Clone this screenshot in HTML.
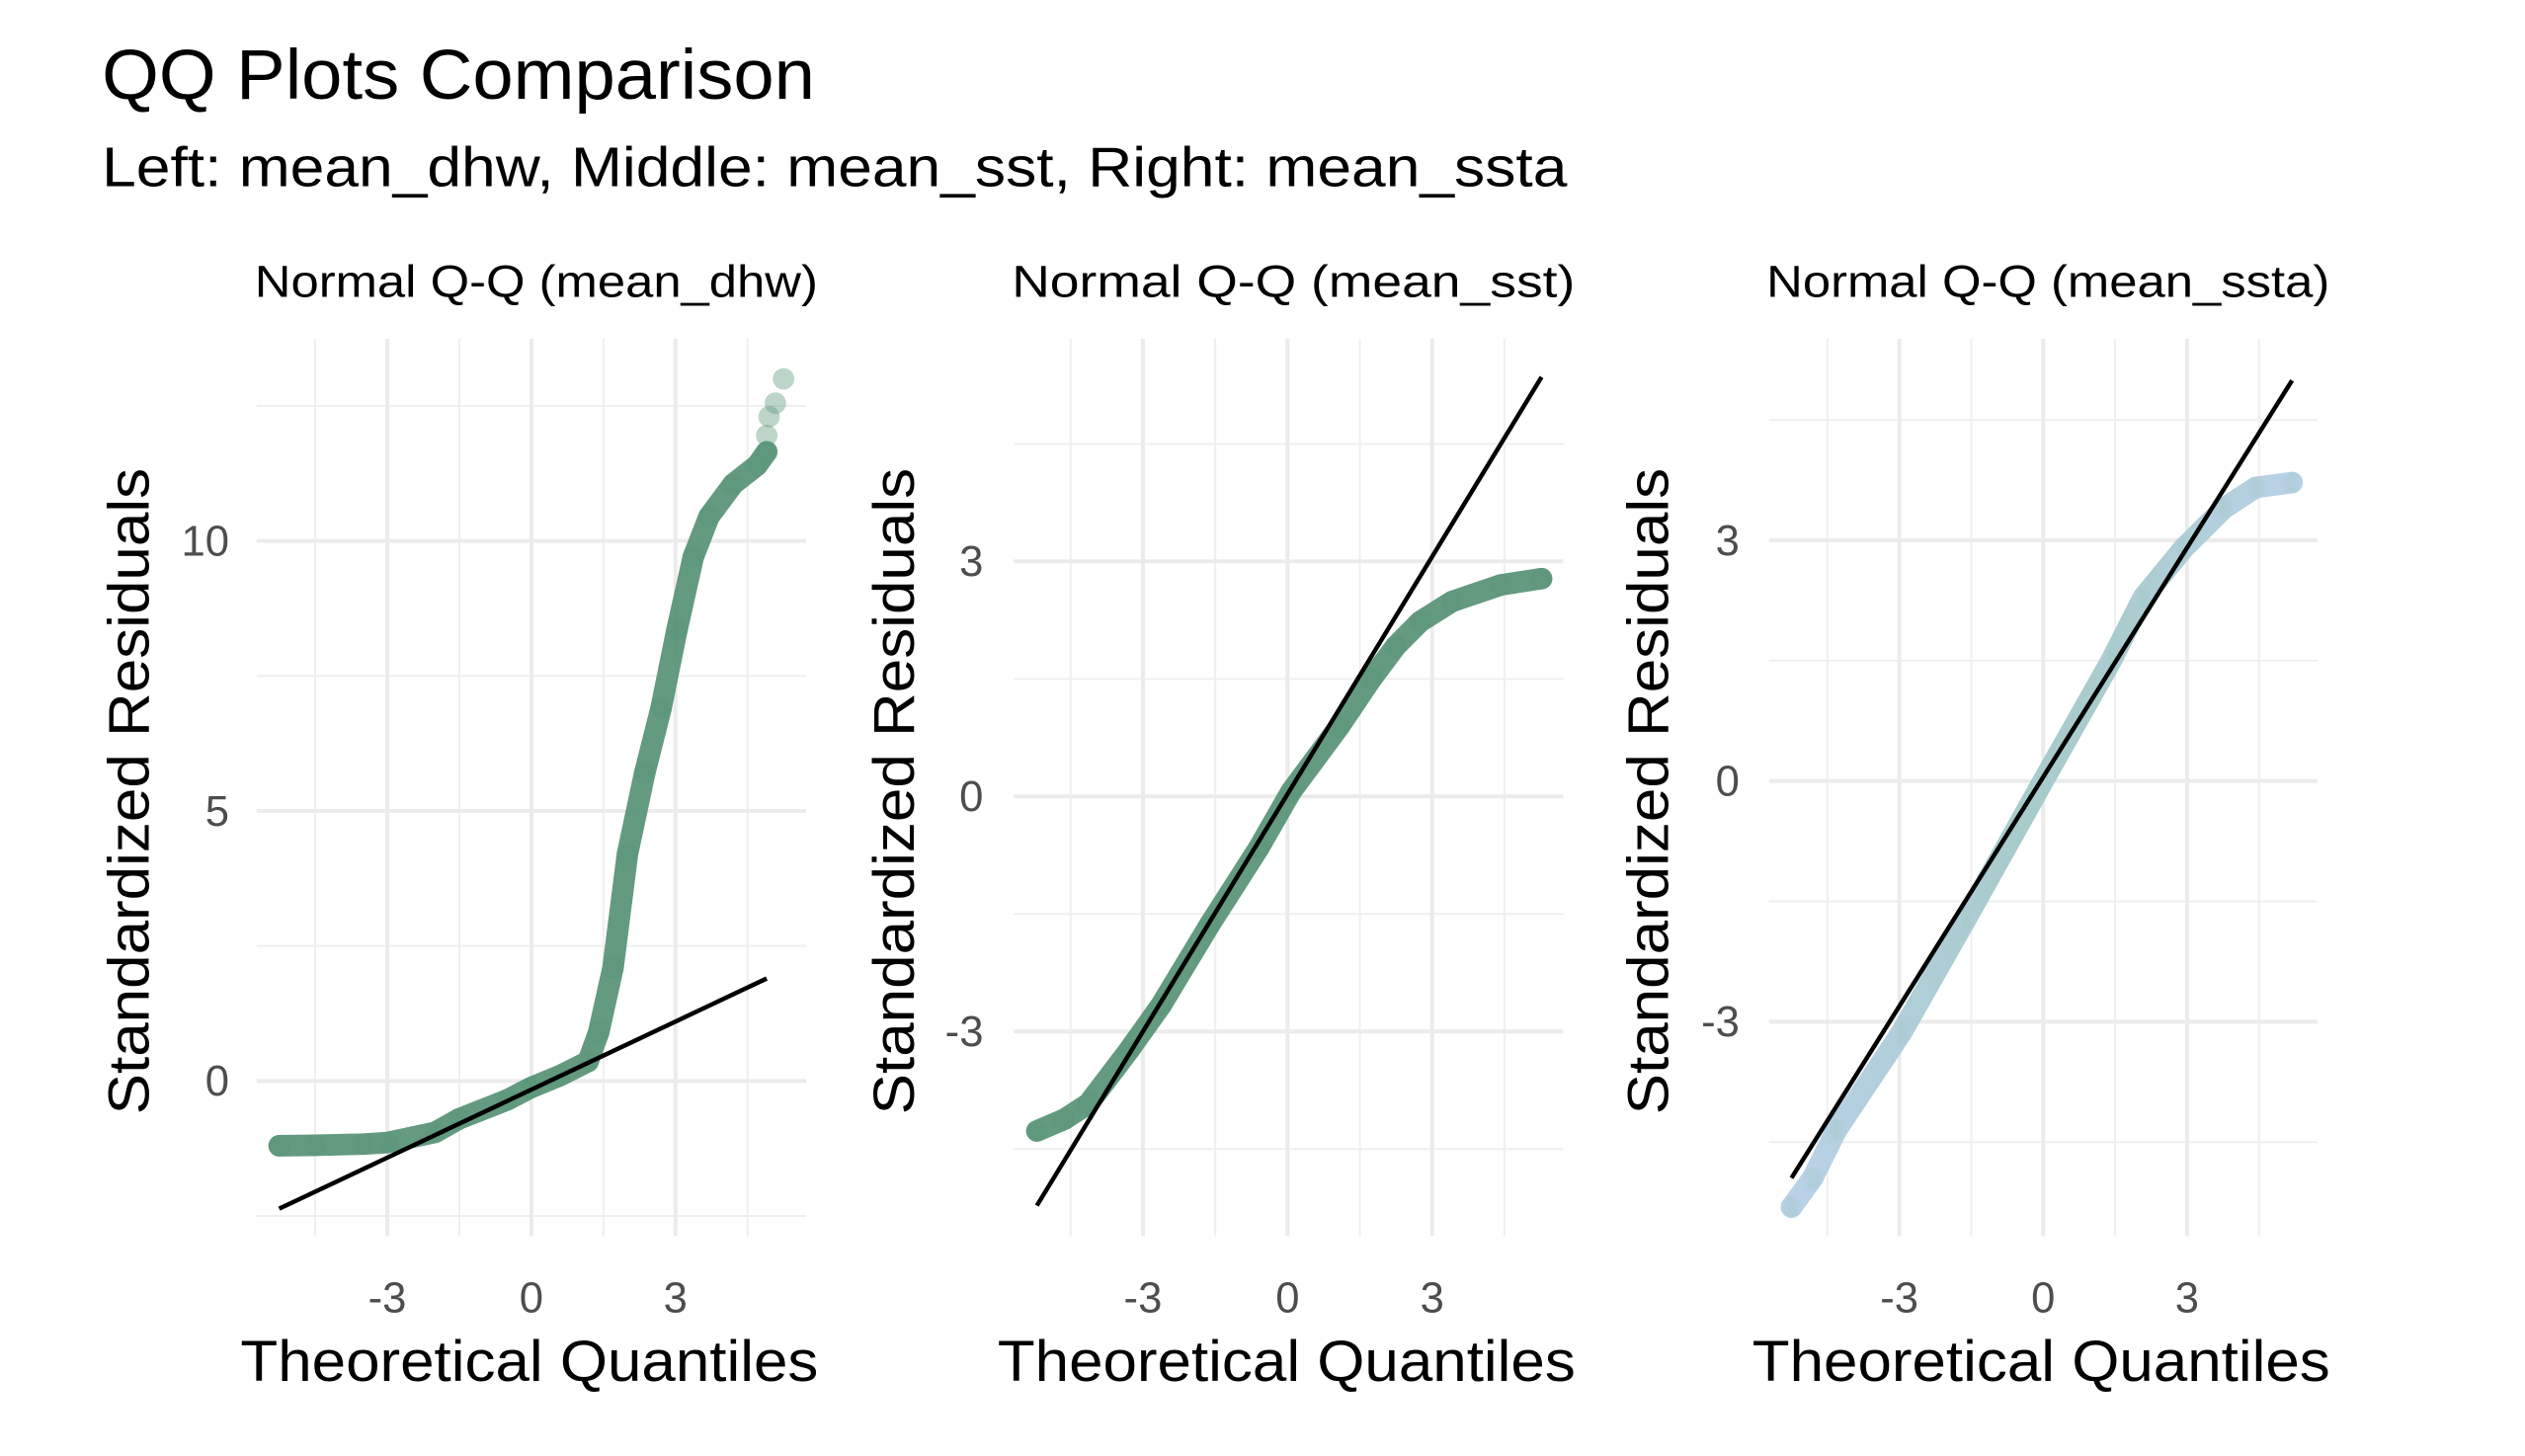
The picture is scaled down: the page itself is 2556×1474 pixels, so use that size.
<!DOCTYPE html>
<html><head><meta charset="utf-8"><style>
html,body{margin:0;padding:0;background:#fff;}
svg{display:block;font-family:"Liberation Sans",Arial,sans-serif;}
</style></head><body>
<svg id="chart" width="2556" height="1474" viewBox="0 0 2556 1474" xmlns="http://www.w3.org/2000/svg">
<defs>
<linearGradient id="bluegrad" x1="0" y1="0" x2="1" y2="0">
<stop offset="0" stop-color="#b6cfe6"/><stop offset="0.45" stop-color="#a3c8c9"/><stop offset="0.65" stop-color="#a6c9cb"/><stop offset="1" stop-color="#b6cfe6"/>
</linearGradient>
</defs>
<g transform="scale(0.9915)">
<text x="104" y="101" font-size="72" fill="#000" textLength="728" lengthAdjust="spacingAndGlyphs">QQ Plots Comparison</text>
<text x="104" y="190" font-size="57" fill="#000" textLength="1496" lengthAdjust="spacingAndGlyphs">Left: mean_dhw, Middle: mean_sst, Right: mean_ssta</text>
<g id="panels"></g>
</g>
</svg>
<script>
// Panel 1: mean_dhw
const dhwTheo = [-5.25,-4.5,-3.5,-3.0,-2.0,-1.5,-0.5,0.0,0.6,1.18,1.4,1.7,2.0,2.36,2.7,3.03,3.37,3.7,4.2,4.7,4.9];
const dhwSample = [-1.2,-1.19,-1.17,-1.14,-0.95,-0.7,-0.35,-0.12,0.1,0.36,0.9,2.1,4.2,5.7,6.9,8.35,9.7,10.45,11.05,11.4,11.65];
const dhwOutTheo = [4.9,4.95,5.08,5.25];
const dhwOutSample = [11.95,12.3,12.55,13.0];
const dhwLine = [0.42,-0.16];
// Panel 2: mean_sst
const sstTheo = [-5.2,-4.63,-4.13,-3.29,-2.62,-1.61,-0.6,0.07,1.07,1.74,2.25,2.75,3.42,4.43,5.27];
const sstSample = [-4.27,-4.12,-3.92,-3.24,-2.66,-1.63,-0.66,0.06,0.89,1.5,1.92,2.23,2.49,2.7,2.78];
const sstLine = [1.01,0.03];
// Panel 3: mean_ssta
const sstaTheo = [-5.25,-4.81,-4.31,-2.96,-1.62,0,1.41,2.09,2.93,3.77,4.44,5.19];
const sstaSample = [-5.31,-4.95,-4.35,-3.14,-1.73,0,1.49,2.29,2.9,3.4,3.66,3.72];
const sstaLine = [0.952,0.05];
// Axis ticks
const xTicks = [-3,0,3];
const xTickLabels = ["-3","0","3"];
const yTicks1 = [0,5,10];
const yTickLabels1 = ["0","5","10"];
const yTicks2 = [-3,0,3];
const yTickLabels2 = ["-3","0","3"];
const panelTitles = ["Normal Q-Q (mean_dhw)","Normal Q-Q (mean_sst)","Normal Q-Q (mean_ssta)"];

const NS="http://www.w3.org/2000/svg";
const root=document.getElementById('panels');
function mk(tag,attrs,parent){const e=document.createElementNS(NS,tag);for(const k in attrs)e.setAttribute(k,attrs[k]);(parent||root).appendChild(e);return e;}

const panels=[
 {left:262,right:823,xd:[-5.72,5.72],yd:[-2.87,13.74],theo:dhwTheo,samp:dhwSample,outT:dhwOutTheo,outS:dhwOutSample,line:dhwLine,yt:yTicks1,ytl:yTickLabels1,minorY:[-2.5,2.5,7.5,12.5],color:"#5b9579",title:panelTitles[0],key:"dhw",ylab:234,ytitle:152},
 {left:1035,right:1596,xd:[-5.68,5.72],yd:[-5.61,5.84],theo:sstTheo,samp:sstSample,outT:[],outS:[],line:sstLine,yt:yTicks2,ytl:yTickLabels2,minorY:[-4.5,-1.5,1.5,4.5],color:"#5b9579",title:panelTitles[1],key:"sst",ylab:1004,ytitle:933},
 {left:1806,right:2366,xd:[-5.72,5.72],yd:[-5.67,5.51],theo:sstaTheo,samp:sstaSample,outT:[],outS:[],line:sstaLine,yt:yTicks2,ytl:yTickLabels2,minorY:[-4.5,-1.5,1.5,4.5],color:"url(#bluegrad)",title:panelTitles[2],key:"ssta",ylab:1776,ytitle:1703}
];
const TOP=346,BOT=1262;
panels.forEach((p,i)=>{
 const g=mk('g',{});
 
 
 const sx=v=>p.left+(v-p.xd[0])/(p.xd[1]-p.xd[0])*(p.right-p.left);
 const sy=v=>BOT-(v-p.yd[0])/(p.yd[1]-p.yd[0])*(BOT-TOP);
 [-4.5,-1.5,1.5,4.5].forEach(v=>{const l=mk('line',{x1:sx(v),x2:sx(v),y1:TOP,y2:BOT,stroke:'#efefef','stroke-width':2},g);});
 p.minorY.forEach(v=>{const l=mk('line',{x1:p.left,x2:p.right,y1:sy(v),y2:sy(v),stroke:'#efefef','stroke-width':2},g);});
 xTicks.forEach((v,k)=>{
  const l=mk('line',{x1:sx(v),x2:sx(v),y1:TOP,y2:BOT,stroke:'#ebebeb','stroke-width':4},g);
  
  
  const t=mk('text',{x:sx(v),y:1340,'font-size':44,fill:'#4d4d4d','text-anchor':'middle'},g);
  
  
  t.textContent=xTickLabels[k];
 });
 p.yt.forEach((v,k)=>{
  const l=mk('line',{x1:p.left,x2:p.right,y1:sy(v),y2:sy(v),stroke:'#ebebeb','stroke-width':4},g);
  
  
  const t=mk('text',{x:p.ylab,y:sy(v)+15,'font-size':44,fill:'#4d4d4d','text-anchor':'end'},g);
  
  
  t.textContent=p.ytl[k];
 });
 let d='';
 p.theo.forEach((v,k)=>{d+=(k?'L':'M')+sx(v).toFixed(1)+','+sy(p.samp[k]).toFixed(1);});
 const band=mk('path',{d:d,fill:'none',stroke:p.color,'stroke-width':22,'stroke-linecap':'round','stroke-linejoin':'round','stroke-opacity':0.95},g);
 
 
 p.theo.forEach((v,k)=>{
  const c=mk('circle',{cx:sx(v),cy:sy(p.samp[k]),r:11,fill:p.color,'fill-opacity':0.4},g);
  
  
 });
 p.outT.forEach((v,k)=>{
  const c=mk('circle',{cx:sx(v),cy:sy(p.outS[k]),r:11,fill:'#5b9579','fill-opacity':0.4},g);
  
  
 });
 const x0=p.theo[0], x1=p.theo[p.theo.length-1];
 const ln=mk('line',{x1:sx(x0),y1:sy(p.line[0]*x0+p.line[1]),x2:sx(x1),y2:sy(p.line[0]*x1+p.line[1]),stroke:'#000','stroke-width':4.5},g);
 
 
 const cx=(p.left+p.right)/2;
 const pt=mk('text',{x:cx+5,y:303,'font-size':46,fill:'#000','text-anchor':'middle',textLength:575,lengthAdjust:'spacingAndGlyphs'},g);
 
 
 pt.textContent=p.title;
 const xt=mk('text',{x:cx-2,y:1410,'font-size':59,fill:'#000','text-anchor':'middle',textLength:590,lengthAdjust:'spacingAndGlyphs'},g);
 
 
 xt.textContent='Theoretical Quantiles';
 const yt=mk('text',{x:0,y:0,'font-size':59,fill:'#000','text-anchor':'middle',textLength:660,lengthAdjust:'spacingAndGlyphs',transform:'translate('+p.ytitle+',808) rotate(-90)'},g);
 
 
 yt.textContent='Standardized Residuals';
});
</script>
</body></html>
